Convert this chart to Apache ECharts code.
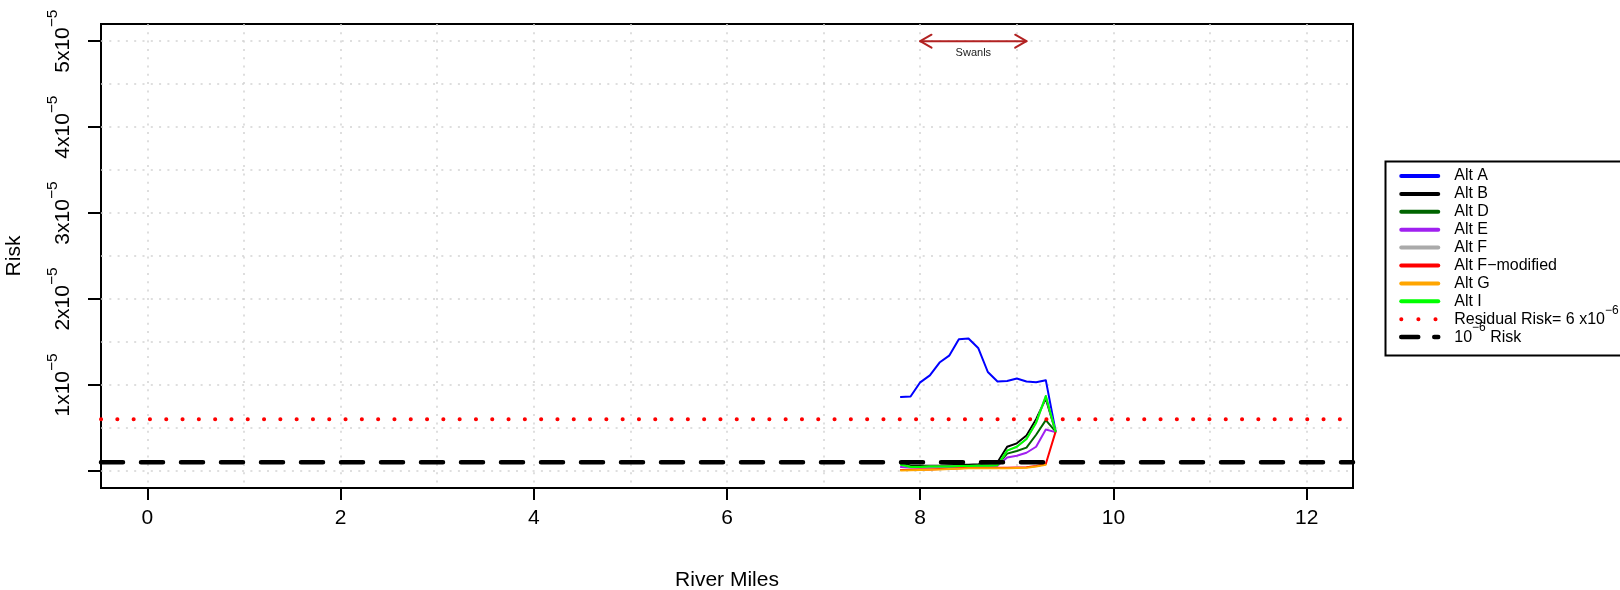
<!DOCTYPE html>
<html><head><meta charset="utf-8">
<script src="https://cdn.jsdelivr.net/npm/echarts@6/dist/echarts.min.js"></script>
<style>html,body{margin:0;padding:0;background:#fff}#chart{width:1620px;height:590px}</style>
</head><body><div id="chart"></div>
<script>
// ---------------- data ----------------
const miles   = [7.8, 7.9, 8.0, 8.1, 8.2, 8.3, 8.4, 8.5, 8.6, 8.7, 8.8, 8.9, 9.0, 9.1, 9.2, 9.3, 9.4];
const altA    = [8.6e-6, 8.65e-6, 1.03e-5, 1.11e-5, 1.26e-5, 1.34e-5, 1.53e-5, 1.54e-5, 1.43e-5, 1.15e-5, 1.04e-5, 1.045e-5, 1.075e-5, 1.04e-5, 1.03e-5, 1.055e-5, 4.7e-6];
const altB    = [1.0e-6, 6.0e-7, 6.0e-7, 6.0e-7, 6.0e-7, 6.5e-7, 7.0e-7, 7.0e-7, 7.5e-7, 8.5e-7, 1.0e-6, 2.8e-6, 3.2e-6, 4.1e-6, 6.0e-6, 8.4e-6, 4.6e-6];
const altD    = [8.5e-7, 5.0e-7, 5.0e-7, 5.0e-7, 5.0e-7, 5.5e-7, 5.5e-7, 6.0e-7, 6.0e-7, 6.5e-7, 7.0e-7, 2.0e-6, 2.3e-6, 2.7e-6, 4.2e-6, 5.9e-6, 4.6e-6];
const altE    = [4.5e-7, 4.0e-7, 4.0e-7, 4.0e-7, 4.5e-7, 4.5e-7, 5.0e-7, 5.0e-7, 5.5e-7, 5.5e-7, 6.0e-7, 1.55e-6, 1.75e-6, 2.1e-6, 2.8e-6, 4.8e-6, 4.5e-6];
const altF    = [7.0e-7, 4.5e-7, 4.5e-7, 5.0e-7, 5.0e-7, 5.0e-7, 5.5e-7, 5.5e-7, 6.0e-7, 6.0e-7, 6.5e-7, 2.35e-6, 2.8e-6, 3.7e-6, 5.6e-6, 8.7e-6, 4.6e-6];
const altFmod = [1.0e-7, 1.2e-7, 1.4e-7, 1.6e-7, 2.0e-7, 2.5e-7, 3.0e-7, 3.5e-7, 3.5e-7, 3.5e-7, 3.5e-7, 3.5e-7, 3.8e-7, 4.2e-7, 5.5e-7, 8.0e-7, 4.5e-6];
const altG    = [5.0e-8, 7.0e-8, 9.0e-8, 1.2e-7, 1.6e-7, 2.0e-7, 2.5e-7, 3.0e-7, 3.0e-7, 3.0e-7, 3.0e-7, 3.0e-7, 3.3e-7, 3.7e-7, 5.0e-7, 7.0e-7, null];
const altI    = [7.0e-7, 4.5e-7, 4.5e-7, 5.0e-7, 5.0e-7, 5.0e-7, 5.5e-7, 5.5e-7, 6.0e-7, 6.0e-7, 6.5e-7, 2.35e-6, 2.8e-6, 3.7e-6, 5.6e-6, 8.7e-6, 4.6e-6];
const residualRisk = 6e-6;
const oneInMillionRisk = 1e-6;

const seriesNames  = ['Alt A', 'Alt B', 'Alt D', 'Alt E', 'Alt F', 'Alt F\u2212modified', 'Alt G', 'Alt I'];
const seriesColors = ['#0000FF', '#000000', '#006400', '#A020F0', '#AAAAAA', '#FF0000', '#FFA500', '#00FF00'];
const seriesValues = [altA, altB, altD, altE, altF, altFmod, altG, altI];

const xRange = [-0.48, 12.48];
const yRange = [-2e-6, 5.2e-5];
const xTicks = [0, 2, 4, 6, 8, 10, 12];
const xGridLines = [0, 1, 2, 3, 4, 5, 6, 7, 8, 9, 10, 11, 12];
const yTicks = [0, 1e-5, 2e-5, 3e-5, 4e-5, 5e-5];
const yTickMantissa = ['', '1', '2', '3', '4', '5'];
const yGridLines = [0, 0.5e-5, 1e-5, 1.5e-5, 2e-5, 2.5e-5, 3e-5, 3.5e-5, 4e-5, 4.5e-5, 5e-5];

const swanlsMiles = [8.0, 9.1];
const swanlsRisk = 5e-5;
const swanlsLabel = 'Swanls';

// ---------------- chart ----------------
const FONT = "'Liberation Sans', Arial, Helvetica, sans-serif";
const chart = echarts.init(document.getElementById('chart'), null, {renderer: 'canvas'});
const pairs = ys => miles.map((m, i) => [m, ys[i]]);

const series = seriesNames.map((n, i) => ({
  type: 'line', name: n, data: pairs(seriesValues[i]),
  symbol: 'none', showSymbol: false, silent: true, connectNulls: false,
  lineStyle: {color: seriesColors[i], width: 2, join: 'round', cap: 'round'},
  itemStyle: {color: seriesColors[i]},
  emphasis: {disabled: true}, z: 3 + i
}));
series.push({
  type: 'line', name: 'residual', data: [[xRange[0], residualRisk], [xRange[1], residualRisk]],
  symbol: 'none', silent: true,
  lineStyle: {color: '#FF0000', width: 4, type: [0.1, 16.2], cap: 'round'},
  itemStyle: {color: '#FF0000'}, emphasis: {disabled: true}, z: 20
});
series.push({
  type: 'line', name: 'oneE6', data: [[xRange[0], oneInMillionRisk], [xRange[1], oneInMillionRisk]],
  symbol: 'none', silent: true,
  lineStyle: {color: '#000000', width: 4.5, type: [22, 18], cap: 'round'},
  itemStyle: {color: '#000000'}, emphasis: {disabled: true}, z: 21
});
series.push({
  type: 'custom', name: 'swanls', silent: true, z: 30,
  data: [[swanlsMiles[0], swanlsMiles[1], swanlsRisk]],
  encode: {x: [0, 1], y: [2]},
  renderItem: function (params, api) {
    const a = api.coord([api.value(0), api.value(2)]);
    const b = api.coord([api.value(1), api.value(2)]);
    const hx = 11.3, hy = 6.5;
    const st = {stroke: '#B22222', lineWidth: 2, fill: 'none', lineCap: 'round', lineJoin: 'round'};
    return {type: 'group', children: [
      {type: 'line', shape: {x1: a[0], y1: a[1], x2: b[0], y2: b[1]}, style: st},
      {type: 'polyline', shape: {points: [[a[0] + hx, a[1] - hy], a, [a[0] + hx, a[1] + hy]]}, style: st},
      {type: 'polyline', shape: {points: [[b[0] - hx, b[1] - hy], b, [b[0] - hx, b[1] + hy]]}, style: st},
      {type: 'text', x: (a[0] + b[0]) / 2, y: a[1] + 12,
       style: {text: swanlsLabel, fontSize: 11, fontFamily: FONT, fill: '#222', align: 'center', verticalAlign: 'middle'}}
    ]};
  }
});

const gridLineStyle = {color: '#D3D3D3', width: 1.5, type: [2, 6.3]};
const legendLabels = {
  residual: '{n|Residual Risk= 6 x10}{s|\u22126}',
  oneE6: '{n|10}{s|\u22126}{n| Risk}'
};

chart.setOption({
  animation: false,
  backgroundColor: '#fff',
  textStyle: {fontFamily: FONT},
  grid: {left: 101, right: 267, top: 24, bottom: 102, show: true, borderColor: '#000', borderWidth: 2,
         backgroundColor: 'transparent', containLabel: false, outerBoundsMode: 'none'},
  xAxis: [{
    type: 'value', min: xRange[0], max: xRange[1], position: 'bottom',
    axisLine: {show: false, onZero: false},
    axisTick: {show: true, inside: false, customValues: xTicks, length: 12, lineStyle: {color: '#000', width: 2}},
    axisLabel: {customValues: xTicks, margin: 20, fontSize: 21, lineHeight: 21, color: '#000', fontFamily: FONT},
    splitLine: {show: false},
    name: 'River Miles', nameLocation: 'middle', nameGap: 82, nameMoveOverlap: false,
    nameTextStyle: {fontSize: 21, color: '#000', fontFamily: FONT}
  }, {
    type: 'value', min: xRange[0], max: xRange[1], position: 'top',
    axisLine: {show: false, onZero: false},
    axisTick: {show: false, customValues: xGridLines},
    axisLabel: {show: false, customValues: xGridLines},
    splitLine: {show: true, lineStyle: gridLineStyle}
  }],
  yAxis: [{
    type: 'value', min: yRange[0], max: yRange[1], position: 'left',
    axisLine: {show: false, onZero: false},
    axisTick: {show: true, inside: false, customValues: yTicks, length: 13, lineStyle: {color: '#000', width: 2}},
    axisLabel: {
      customValues: yTicks, rotate: 90, margin: 20, color: '#000', fontFamily: FONT,
      formatter: function (v) {
        const i = yTicks.findIndex(t => Math.abs(t - v) < 1e-9);
        const m = i >= 0 ? yTickMantissa[i] : '';
        return m ? '{n|' + m + 'x10}{s|\u22125}' : '';
      },
      rich: {
        n: {fontSize: 21, lineHeight: 36, fontFamily: FONT, color: '#000'},
        s: {fontSize: 15.5, lineHeight: 16, verticalAlign: 'top', fontFamily: FONT, color: '#000'}
      }
    },
    splitLine: {show: false},
    name: 'Risk', nameLocation: 'middle', nameGap: 76, nameRotate: 90, nameMoveOverlap: false,
    nameTextStyle: {fontSize: 21, color: '#000', fontFamily: FONT}
  }, {
    type: 'value', min: yRange[0], max: yRange[1], position: 'right',
    axisLine: {show: false, onZero: false},
    axisTick: {show: false, customValues: yGridLines},
    axisLabel: {show: false, customValues: yGridLines},
    splitLine: {show: true, lineStyle: gridLineStyle}
  }],
  legend: {
    orient: 'vertical', left: 1399, top: 161, padding: 0, itemGap: -12.1,
    itemWidth: 37, itemHeight: 14, selectedMode: false,
    data: seriesNames.map(n => ({name: n})).concat([
      {name: 'residual', lineStyle: {type: [0.1, 17], width: 4, cap: 'round', color: '#FF0000'}},
      {name: 'oneE6', lineStyle: {type: [17, 16], width: 4.5, cap: 'round', color: '#000000'}}
    ]),
    lineStyle: {width: 4, cap: 'round'},
    itemStyle: {opacity: 0},
    formatter: name => legendLabels[name] || name,
    textStyle: {
      fontSize: 16, lineHeight: 30, color: '#000', fontFamily: FONT, padding: [0, 0, 0, 11],
      rich: {
        n: {fontSize: 16, lineHeight: 30, fontFamily: FONT, color: '#000'},
        s: {fontSize: 12, lineHeight: 12, verticalAlign: 'top', fontFamily: FONT, color: '#000'}
      }
    }
  },
  graphic: [{
    type: 'rect', left: 1383, top: 159, silent: true,
    shape: {width: 236, height: 194},
    style: {fill: 'none', stroke: '#000', lineWidth: 2}
  }],
  series: series
});
</script></body></html>
